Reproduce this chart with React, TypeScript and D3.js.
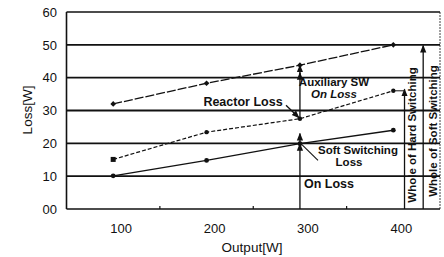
import React from "react";
import * as d3 from "d3";

const outputs = [100, 200, 300, 400];
const totalLoss = [32, 38.3, 43.8, 50];
const midLoss = [15.1, 23.4, 27.5, 36];
const lowLoss = [10.1, 14.8, 19.9, 24];
const yTicks = [0, 10, 20, 30, 40, 50, 60];
const yTickLabels = ["00", "10", "20", "30", "40", "50", "60"];
const xTicks = [100, 200, 300, 400];
const xMinorTicks = [150, 250, 350];

const W = 444;
const H = 257;
const INK = "#111";
const FONT = "'Liberation Sans', Arial, sans-serif";

export default function App() {
  const x = d3.scaleLinear().domain([50, 450]).range([66.5, 440]);
  const y = d3.scaleLinear().domain([0, 60]).range([209, 12]);
  const line = d3
    .line<[number, number]>()
    .x((d) => x(d[0]))
    .y((d) => y(d[1]));
  const pts = (vals: number[]) => outputs.map((o, i) => [o, vals[i]] as [number, number]);

  const x300 = x(300);
  const x400 = x(400);
  const xHard = x(412);
  const xSoft = x(432);

  return (
    <svg
      width={W}
      height={H}
      style={{ position: "absolute", left: 0, top: 0, background: "#fff" }}
      fontFamily={FONT}
    >
      <defs>
        <marker id="ah" viewBox="0 0 10 10" refX="9" refY="5" markerWidth="6" markerHeight="7" orient="auto-start-reverse">
          <path d="M0,1 L10,5 L0,9 z" fill={INK} />
        </marker>
      </defs>
      <rect x={0} y={0} width={W} height={H} fill="#fff" />
      {/* gridlines */}
      {yTicks.map((t) => (
        <line key={t} x1={x(50)} x2={x(450)} y1={y(t)} y2={y(t)} stroke={INK} strokeWidth={t === 0 || t === 60 ? 1.6 : 1.8} />
      ))}
      <line x1={x(50)} x2={x(50)} y1={y(0)} y2={y(60)} stroke={INK} strokeWidth={1.6} />
      <line x1={x(450)} x2={x(450)} y1={y(0)} y2={y(60)} stroke={INK} strokeWidth={0.8} strokeDasharray="2,1" />
      {xMinorTicks.map((t) => (
        <line key={t} x1={x(t)} x2={x(t)} y1={y(0)} y2={y(0) - 3} stroke={INK} strokeWidth={1.2} />
      ))}
      {/* y tick labels */}
      {yTicks.map((t, i) => (
        <text key={t} x={57} y={y(t)} dy="0.36em" textAnchor="end" fontSize={13} fill={INK}>
          {yTickLabels[i]}
        </text>
      ))}
      {/* x tick labels */}
      {xTicks.map((t) => (
        <text key={t} x={x(t) + 8} y={233} textAnchor="middle" fontSize={13} fill={INK}>
          {t}
        </text>
      ))}
      <text x={252} y={252} textAnchor="middle" fontSize={13.5} fill={INK}>
        Output[W]
      </text>
      <text transform={`translate(32,110) rotate(-90)`} textAnchor="middle" fontSize={13.5} fill={INK}>
        Loss[W]
      </text>

      {/* series */}
      <path d={line(pts(totalLoss)) || ""} fill="none" stroke={INK} strokeWidth={1.3} strokeDasharray="9,2" />
      <path d={line(pts(midLoss)) || ""} fill="none" stroke={INK} strokeWidth={1.2} strokeDasharray="4,2" />
      <path d={line(pts(lowLoss)) || ""} fill="none" stroke={INK} strokeWidth={1.4} />
      {pts(totalLoss).map((p, i) => (
        <rect key={i} x={x(p[0]) - 2} y={y(p[1]) - 2} width={4} height={4} fill={INK} transform={`rotate(45 ${x(p[0])} ${y(p[1])})`} />
      ))}
      {pts(midLoss).map((p, i) =>
        i === 0 ? (
          <rect key={i} x={x(p[0]) - 2.5} y={y(p[1]) - 2.5} width={5} height={5} fill={INK} />
        ) : (
          <circle key={i} cx={x(p[0])} cy={y(p[1])} r={2.2} fill={INK} />
        )
      )}
      {pts(lowLoss).map((p, i) => (
        <circle key={i} cx={x(p[0])} cy={y(p[1])} r={2.4} fill={INK} />
      ))}

      {/* annotation arrows at 300 */}
      <line x1={x300} x2={x300} y1={y(0)} y2={y(19.9)} stroke={INK} strokeWidth={1.3} markerEnd="url(#ah)" />
      <line x1={x300} x2={x300} y1={y(19.9)} y2={y(23)} stroke={INK} strokeWidth={1.3} markerEnd="url(#ah)" />
      <line x1={x300} x2={x300} y1={y(27.5)} y2={y(43.8)} stroke={INK} strokeWidth={1.3} markerEnd="url(#ah)" />
      <line x1={x300} x2={x300} y1={y(40)} y2={y(41.5)} stroke={INK} strokeWidth={1.3} markerEnd="url(#ah)" />
      <line x1={286} y1={y(31.6)} x2={x300 - 1} y2={y(27.8)} stroke={INK} strokeWidth={1.3} markerEnd="url(#ah)" />
      <line x1={x300 + 2} y1={y(19.6)} x2={318} y2={y(14.8)} stroke={INK} strokeWidth={1.1} />
      {/* whole-of arrows */}
      <line x1={x400} x2={xHard} y1={y(36)} y2={y(36)} stroke={INK} strokeWidth={1} />
      <line x1={xHard} x2={xHard} y1={y(0)} y2={y(36.5)} stroke={INK} strokeWidth={1.3} markerEnd="url(#ah)" />
      <line x1={xSoft} x2={xSoft} y1={y(0)} y2={y(49.8)} stroke={INK} strokeWidth={1.3} markerEnd="url(#ah)" />

      {/* annotation text */}
      <g fontWeight="bold" fontSize={11.5} fill={INK}>
        <text x={243} y={106} textAnchor="middle" fontSize={12.5}>Reactor Loss</text>
        <text x={334} y={86} textAnchor="middle">Auxiliary SW</text>
        <text x={334} y={98} textAnchor="middle" fontStyle="italic">On Loss</text>
        <text x={358} y={154} textAnchor="middle">Soft Switching</text>
        <text x={349} y={166} textAnchor="middle">Loss</text>
        <text x={304} y={188} fontSize={12.5}>On Loss</text>
      </g>
      <g fontWeight="bold" fontSize={11.5} fill={INK}>
        <text transform={`translate(${xHard + 11},135) rotate(-90)`} textAnchor="middle">Whole of Hard Switching</text>
        <text transform={`translate(${xSoft + 14},131) rotate(-90)`} textAnchor="middle">Whole of Soft Switching</text>
      </g>
    </svg>
  );
}
